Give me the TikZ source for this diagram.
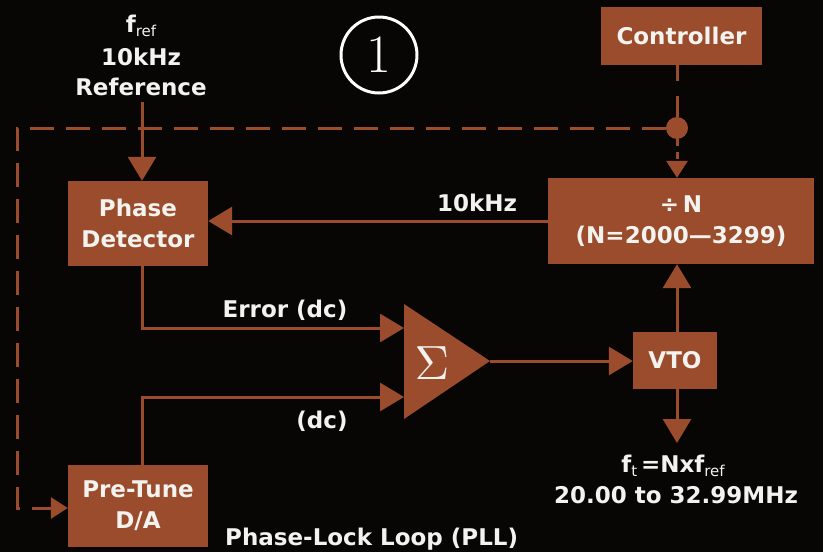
\documentclass[tikz,border=0pt]{standalone}
\usepackage{fontspec}
\setmainfont{DejaVu Sans}
\newfontfamily\lmfont{Latin Modern Roman}
\usetikzlibrary{arrows.meta}
\definecolor{bg}{HTML}{080605}
\definecolor{rust}{HTML}{9A4C2C}
\definecolor{txt}{HTML}{F2F2EE}
\newcommand{\sbs}[1]{{\fontsize{15}{15}\selectfont\mdseries\raisebox{-4pt}{#1}}}
\tikzset{
  blk/.style={fill=rust, draw=none, inner sep=0pt, align=center, text=txt,
    font=\fontsize{23}{31}\selectfont\bfseries},
  lbl/.style={text=txt, inner sep=0pt, font=\fontsize{23}{31}\selectfont\bfseries},
  wire/.style={draw=rust, line width=3pt, -{Triangle[length=24pt,width=28pt]}},
  dwire/.style={draw=rust, line width=3pt, dash pattern=on 24pt off 12pt},
  smalltip/.style={-{Triangle[length=17pt,width=21pt]}},
}
\begin{document}
\begin{tikzpicture}[x=1pt,y=-1pt]
\fill[bg] (0,0) rectangle (823,552);
\useasboundingbox (0,0) rectangle (823,552);

% blocks
\node[blk, minimum width=161pt, minimum height=58pt] (ctrl) at (681.5,36) {Controller};
\node[blk, minimum width=140pt, minimum height=85pt] (pd) at (138,223.5) {Phase\\Detector};
\node[blk, minimum width=266pt, minimum height=86pt] (divn) at (681,221) {÷\,N\\(N=2000—3299)};
\node[blk, minimum width=84pt, minimum height=57pt] (vto) at (675,360.5) {VTO};
\node[blk, minimum width=140pt, minimum height=82pt] (pt) at (138,506) {Pre-Tune\\D/A};

% summing amplifier
\coordinate (sumin1) at (404,328);
\coordinate (sumin2) at (404,397);
\coordinate (sumout) at (490,361);
\fill[rust] (404,304) -- (490,361) -- (404,419) -- cycle;
\node[text=txt, inner sep=0pt] (sig) at (432,363) {\scalebox{4.8}{$\Sigma$}};

% number circle
\node[circle, draw=white, line width=3pt, minimum size=76pt, inner sep=0pt,
  text=white, font=\lmfont\fontsize{54}{54}\selectfont] (num) at (379,55) {1};

% junction dot
\node[circle, fill=rust, minimum size=22pt, inner sep=0pt] (dot) at (677,128) {};

% helper coordinates
\coordinate (px) at (142,0);
\coordinate (vx) at (677,0);
\coordinate (refend) at (142,102);
\coordinate (outtip) at (677,443);
\coordinate (c1) at (17,128);
\coordinate (c2) at (17,508);

% labels
\node[lbl, anchor=base] (fref) at (141,32) {f\sbs{ref}};
\node[lbl, anchor=base] (f10) at (141,65) {10kHz};
\node[lbl, anchor=base] (refl) at (141,95) {Reference};
\node[lbl, anchor=base] (k10) at (477,211) {10kHz};
\node[lbl, anchor=base] (err) at (285,317) {Error (dc)};
\node[lbl, anchor=base] (dcl) at (322,428) {(dc)};
\node[lbl, anchor=base] (ft) at (673,472) {f\sbs{t}\,=Nxf\sbs{ref}};
\node[lbl, anchor=base] (rng) at (676,503) {20.00 to 32.99MHz};
\node[lbl, anchor=base west] (pll) at (225,545) {Phase-Lock Loop (PLL)};

% connectors
\draw[wire] (refend) -- (px |- pd.north);
\draw[wire] (divn.west) -- (divn.west -| pd.east);
\draw[wire] (px |- pd.south) |- (sumin1);
\draw[wire] (px |- pt.north) |- (sumin2);
\draw[wire] (sumout) -- (sumout -| vto.west);
\draw[wire] (vx |- vto.north) -- (vx |- divn.south);
\draw[wire] (vx |- vto.south) -- (outtip);

% control (dashed) lines
\draw[draw=rust, line width=3pt, dash pattern=on 16pt off 15pt on 40pt] (vx |- ctrl.south) -- (dot.north);
\draw[draw=rust, line width=3pt, dash pattern=on 7pt off 6pt, smalltip] (dot.south) -- (vx |- divn.north);
\draw[dwire, smalltip] (dot.west) -- (c1) -- (c2) -- (c2 -| pt.west);
\end{tikzpicture}
\end{document}
